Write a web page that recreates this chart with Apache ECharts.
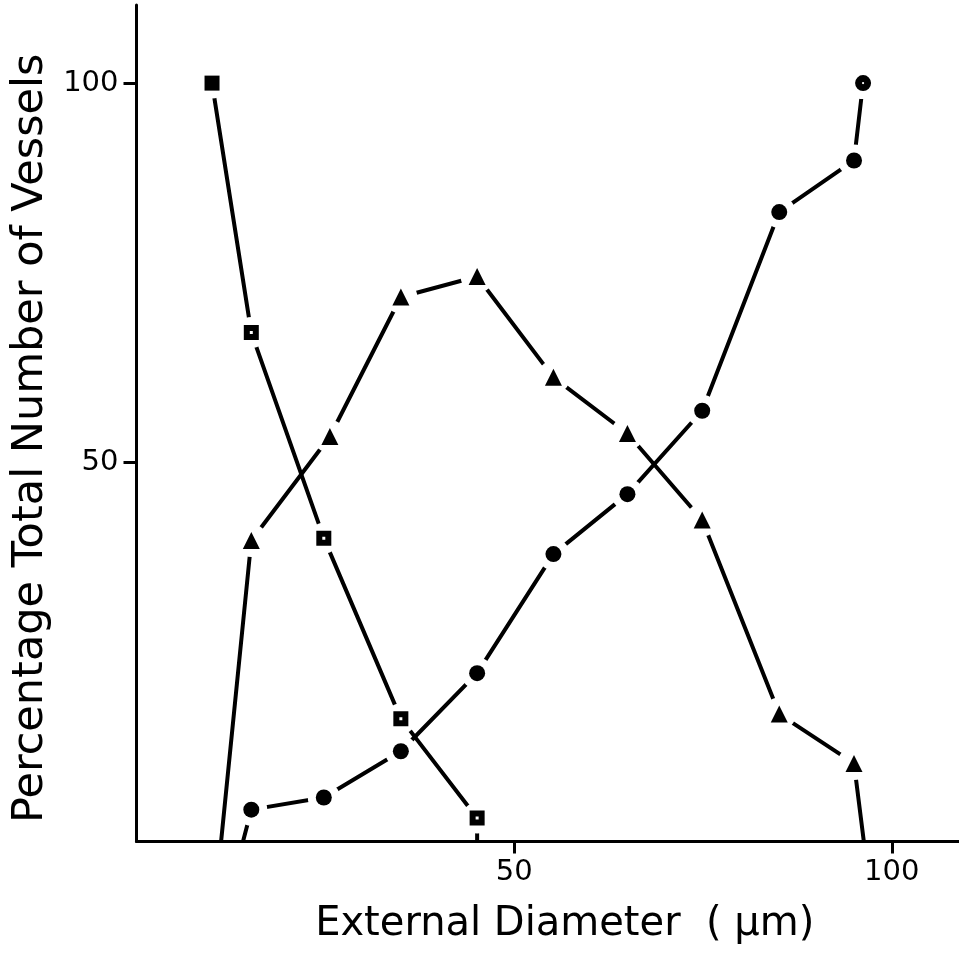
<!DOCTYPE html>
<html><head><meta charset="utf-8">
<script src="https://cdn.jsdelivr.net/npm/echarts@6/dist/echarts.min.js"></script>
<style>html,body{margin:0;padding:0;background:#fff}#c{width:959px;height:955px}</style>
</head><body><div id="c"></div>
<script>
// Square series (points on the axis have no marker)
const squareX = [10.0, 15.2, 24.8, 35.0, 45.1, 45.1];
const squareY = [100, 67.1, 40.0, 16.2, 3.1, 0];
// Triangle series
const triangleX = [11.2, 15.2, 25.6, 35.0, 45.1, 55.2, 65.0, 74.9, 85.1, 95.0, 96.3];
const triangleY = [0, 39.7, 53.4, 71.8, 74.5, 61.2, 53.8, 42.4, 16.8, 10.3, 0];
// Circle series
const circleX = [14.1, 15.2, 24.8, 35.0, 45.1, 55.2, 65.0, 74.9, 85.1, 95.0, 96.2];
const circleY = [0, 4.2, 5.8, 11.9, 22.2, 37.9, 45.8, 56.8, 83.0, 89.8, 100];
// Axis ticks / titles
const xTicks = [50, 100];
const yTicks = [50, 100];
const xTitle = 'External Diameter  ( \u00b5m)';
const yTitle = 'Percentage Total Number of Vessels';

const FONT = 'DejaVu Sans';
const SQ_HOLE = 'path://M0,0H10V10H0Z M4,4V6H6V4Z';
const SQ_FULL = 'path://M0,0H10V10H0Z';
const CI_DOT = 'path://M0,5A5,5 0 1,1 10,5A5,5 0 1,1 0,5Z M4.3,5A0.7,0.7 0 1,0 5.7,5A0.7,0.7 0 1,0 4.3,5Z';

function pairs(xs, ys) { return xs.map((x, i) => [x, ys[i]]); }
function markers(xs, ys) { return pairs(xs, ys).filter(p => p[1] > 0); }

const defs = [
  {name: 'squares', xs: squareX, ys: squareY, size: 15, sym: (i, n) => i === 0 ? SQ_FULL : SQ_HOLE},
  {name: 'triangles', xs: triangleX, ys: triangleY, size: 17, sym: () => 'triangle'},
  {name: 'circles', xs: circleX, ys: circleY, size: 16, sym: (i, n) => i === n - 1 ? CI_DOT : 'circle'}
];

const series = [];
defs.forEach(d => {
  series.push({
    type: 'line', name: d.name, data: pairs(d.xs, d.ys), showSymbol: false, symbol: 'none',
    lineStyle: {color: '#000', width: 4}, z: 2, silent: true
  });
});
defs.forEach(d => {
  const m = markers(d.xs, d.ys);
  series.push({
    type: 'scatter', data: m, symbol: 'circle', symbolSize: d.size + 16,
    itemStyle: {color: '#fff', opacity: 1}, z: 3, silent: true
  });
});
defs.forEach(d => {
  const m = markers(d.xs, d.ys);
  series.push({
    type: 'scatter',
    data: m.map((p, i) => ({value: p, symbol: d.sym(i, m.length)})),
    symbolSize: d.size,
    itemStyle: {color: '#000', opacity: 1}, z: 4, silent: true
  });
});

const axisCommon = {
  type: 'value', min: 0, interval: 50,
  splitLine: {show: false},
  axisLine: {show: true, lineStyle: {color: '#000', width: 3}},
  nameLocation: 'middle'
};

const chart = echarts.init(document.getElementById('c'), null, {renderer: 'canvas'});
chart.setOption({
  animation: false,
  backgroundColor: '#fff',
  grid: {left: 136.5, right: 0, top: 5, bottom: 113.5, containLabel: false},
  xAxis: Object.assign({}, axisCommon, {
    max: 108.9,
    axisTick: {show: true, length: 12, customValues: xTicks, lineStyle: {color: '#000', width: 3}},
    axisLabel: {customValues: xTicks, fontSize: 29, color: '#000', fontFamily: FONT, margin: 16},
    name: xTitle, nameGap: 63,
    nameTextStyle: {fontSize: 40, color: '#000', fontFamily: FONT, padding: [0, 0, 0, 34]}
  }),
  yAxis: Object.assign({}, axisCommon, {
    max: 110.3,
    axisTick: {show: true, length: 13, customValues: yTicks, lineStyle: {color: '#000', width: 3}},
    axisLabel: {customValues: yTicks, fontSize: 29, color: '#000', fontFamily: FONT, margin: 18},
    name: yTitle, nameGap: 82,
    nameTextStyle: {fontSize: 43, color: '#000', fontFamily: FONT, padding: [0, 30, 0, 0]}
  }),
  series: series
});
</script></body></html>
